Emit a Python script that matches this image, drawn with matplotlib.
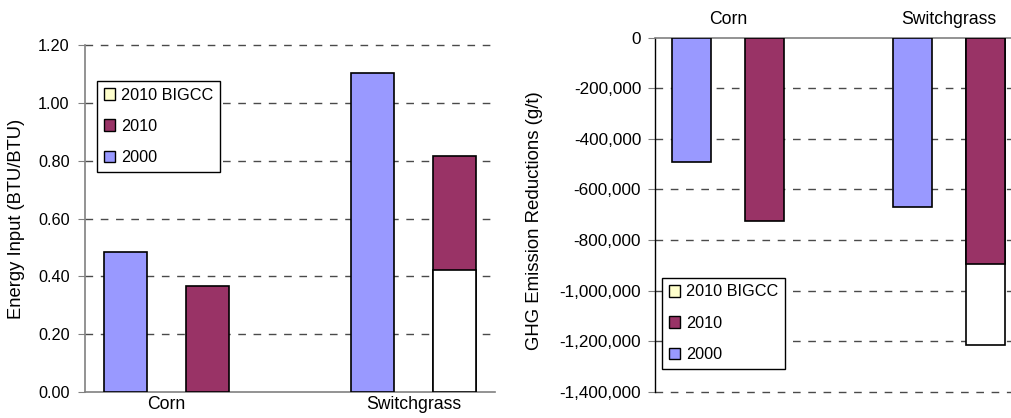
import numpy as np
import matplotlib
matplotlib.use("Agg")
import matplotlib.pyplot as plt
from matplotlib.patches import Patch
from matplotlib.ticker import FuncFormatter

plt.rcParams["font.family"] = ["Liberation Sans", "DejaVu Sans"]
plt.rcParams["font.size"] = 11

categories = ["Corn", "Switchgrass"]
series = ["2010 BIGCC", "2010", "2000"]

energy_2000 = [0.485, 1.105]
energy_2010 = [0.367, 0.815]
energy_bigcc = [np.nan, 0.422]

ghg_2000 = [-492000, -668000]
ghg_2010 = [-725000, -893000]
ghg_bigcc = [np.nan, -1217000]

C_2000 = "#9999FF"
C_2010 = "#993366"
C_BIGCC = "#FFFFCC"

BAR_W = 0.175
OFFSET = 0.166
GRID_KW = dict(color="#4a4a4a", linewidth=1.0, linestyle=(0, (5.5, 5.5)),
               clip_on=False)


def draw_bars(ax, v2000, v2010, vbigcc):
    x = np.arange(len(categories))
    kw = dict(width=BAR_W, edgecolor="black", linewidth=1.2, zorder=3)
    ax.bar(x - OFFSET, v2000, color=C_2000, **kw)
    # the longer of the two 2010 bars goes behind the shorter one
    for i in x:
        pair = [(v2010[i], C_2010), (vbigcc[i], "white")]
        pair = [p for p in pair if not np.isnan(p[0])]
        pair.sort(key=lambda p: -abs(p[0]))
        for val, col in pair:
            ax.bar(i + OFFSET, val, color=col, **kw)
    ax.set_xticks(x)
    ax.set_xticklabels(categories)
    ax.set_xlim(-0.33, 1.33)


def add_legend(fig, x, y):
    handles = [
        Patch(facecolor=C_BIGCC, edgecolor="black", linewidth=1.0),
        Patch(facecolor=C_2010, edgecolor="black", linewidth=1.0),
        Patch(facecolor=C_2000, edgecolor="black", linewidth=1.0),
    ]
    leg = fig.legend(handles, series, loc="upper left",
                     bbox_to_anchor=(x / 1011, 1 - y / 418),
                     bbox_transform=fig.transFigure,
                     fancybox=False, framealpha=1, edgecolor="black",
                     handlelength=0.7, handleheight=0.7, handletextpad=0.38,
                     labelspacing=1.0, borderpad=0.4, borderaxespad=0,
                     fontsize=11.7)
    leg.get_frame().set_linewidth(1.0)
    return leg


fig = plt.figure(figsize=(10.11, 4.18), dpi=100)

# energy input
ax1 = fig.add_axes([0.0841, 0.0622, 0.4055, 0.830])
draw_bars(ax1, energy_2000, energy_2010, energy_bigcc)
ax1.set_ylim(0, 1.2)
ax1.set_yticks(np.arange(0, 1.21, 0.2))
ax1.yaxis.set_major_formatter(FuncFormatter(lambda v, p: f"{v:.2f}"))
for yv in np.arange(0.2, 1.21, 0.2):
    ax1.axhline(yv, zorder=1, **GRID_KW)
for s in ["top", "right"]:
    ax1.spines[s].set_visible(False)
for s in ["left", "bottom"]:
    ax1.spines[s].set_color("#808080")
    ax1.spines[s].set_linewidth(1.2)
ax1.tick_params(axis="y", length=5, color="#808080", pad=6, labelsize=11.7)
ax1.tick_params(axis="x", length=0, pad=3, labelsize=12.7)
ax1.set_ylabel("Energy Input (BTU/BTU)", fontsize=13.2)
ax1.yaxis.set_label_coords(-0.146, 0.5)

# greenhouse gas
ax2 = fig.add_axes([0.6479, 0.0629, 0.363, 0.8469])
draw_bars(ax2, ghg_2000, ghg_2010, ghg_bigcc)
ax2.set_ylim(-1400000, 0)
ax2.set_yticks(np.arange(-1400000, 1, 200000))
ax2.yaxis.set_major_formatter(FuncFormatter(lambda v, p: f"{v:,.0f}"))
for yv in np.arange(-1400000, -1, 200000):
    ax2.axhline(yv, zorder=1, **GRID_KW)
ax2.xaxis.tick_top()
for s in ["bottom", "right"]:
    ax2.spines[s].set_visible(False)
ax2.spines["top"].set_color("#808080")
ax2.spines["top"].set_linewidth(1.2)
ax2.spines["left"].set_color("black")
ax2.spines["left"].set_linewidth(1.0)
ax2.tick_params(axis="y", length=5, color="#808080", pad=5, labelsize=12.3)
ax2.tick_params(axis="x", length=0, pad=7, labelsize=12.7)
ax2.set_ylabel("GHG Emission Reductions (g/t)", fontsize=13.4)
ax2.yaxis.set_label_coords(-0.305, 0.482)

add_legend(fig, 97, 81)
add_legend(fig, 662, 278)

fig.savefig("out.png", dpi=100)
